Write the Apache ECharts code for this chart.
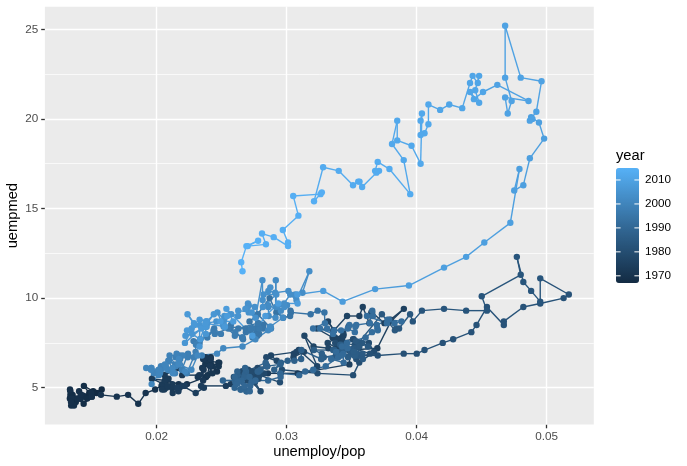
<!DOCTYPE html>
<html><head><meta charset="utf-8">
<script src="https://cdn.jsdelivr.net/npm/echarts@6/dist/echarts.min.js"></script>
<style>html,body{margin:0;padding:0;background:#fff}#c{width:687px;height:466px}</style>
</head><body><div id="c"></div>
<script>
// monthly series, starting July 1967
const firstYear = 1967, firstMonth = 7;
const unemployPop = [
0.01482,0.01481,0.01486,0.01577,0.01537,0.01511,
0.01440,0.01501,0.01438,0.01353,0.01368,0.01465,0.01436,0.01378,0.01336,0.01336,0.01347,0.01332,
0.01347,0.01333,0.01342,0.01364,0.01341,0.01391,0.01415,0.01408,0.01497,0.01500,0.01403,0.01416,
0.01571,0.01693,0.01780,0.01858,0.01915,0.01988,0.02037,0.02074,0.02169,0.02233,0.02380,0.02464,
0.02418,0.02375,0.02415,0.02399,0.02416,0.02391,0.02430,0.02475,0.02429,0.02384,0.02481,0.02477,
0.02410,0.02365,0.02416,0.02376,0.02357,0.02357,0.02350,0.02361,0.02316,0.02327,0.02196,0.02165,
0.02061,0.02120,0.02091,0.02120,0.02058,0.02073,0.02043,0.02042,0.02063,0.01963,0.02081,0.02123,
0.02176,0.02215,0.02167,0.02159,0.02199,0.02300,0.02363,0.02341,0.02532,0.02570,0.02856,0.03084,
0.03482,0.03488,0.03697,0.03801,0.03901,0.03799,0.03752,0.03657,0.03651,0.03636,0.03585,0.03559,
0.03464,0.03365,0.03318,0.03362,0.03232,0.03353,0.03426,0.03436,0.03371,0.03391,0.03475,0.03437,
0.03315,0.03386,0.03321,0.03206,0.03136,0.03234,0.03093,0.03133,0.03052,0.03055,0.03075,0.02879,
0.02923,0.02843,0.02849,0.02776,0.02750,0.02703,0.02827,0.02722,0.02739,0.02657,0.02713,0.02778,
0.02722,0.02748,0.02718,0.02697,0.02593,0.02644,0.02658,0.02799,0.02739,0.02783,0.02755,0.02791,
0.02948,0.02954,0.02963,0.03237,0.03511,0.03558,0.03671,0.03632,0.03515,0.03541,0.03510,0.03373,
0.03524,0.03513,0.03480,0.03427,0.03640,0.03535,0.03504,0.03466,0.03542,0.03700,0.03900,0.04000,
0.04060,0.04200,0.04280,0.04420,0.04460,0.04540,0.04670,0.04670,0.04820,0.04950,0.05130,0.05170,
0.04950,0.04950,0.04880,0.04820,0.04770,0.04800,0.04500,0.04540,0.04380,0.04210,0.04040,0.03970,
0.03949,0.03864,0.03842,0.03832,0.03732,0.03552,0.03581,0.03625,0.03533,0.03516,0.03524,0.03559,
0.03549,0.03500,0.03497,0.03542,0.03493,0.03586,0.03583,0.03434,0.03431,0.03429,0.03381,0.03378,
0.03285,0.03528,0.03525,0.03472,0.03519,0.03516,0.03418,0.03365,0.03412,0.03409,0.03357,0.03209,
0.03270,0.03267,0.03265,0.03113,0.03111,0.03059,0.03007,0.02956,0.02904,0.02951,0.02850,0.02799,
0.02843,0.02841,0.02838,0.02687,0.02784,0.02682,0.02680,0.02777,0.02676,0.02674,0.02622,0.02620,
0.02714,0.02612,0.02509,0.02608,0.02605,0.02653,0.02601,0.02599,0.02647,0.02645,0.02692,0.02690,
0.02729,0.02675,0.02622,0.02719,0.02716,0.02613,0.02760,0.02857,0.02953,0.02950,0.03096,0.03142,
0.03204,0.03300,0.03396,0.03342,0.03438,0.03434,0.03380,0.03426,0.03422,0.03467,0.03463,0.03607,
0.03656,0.03701,0.03697,0.03693,0.03788,0.03883,0.03829,0.03775,0.03771,0.03617,0.03663,0.03658,
0.03639,0.03535,0.03482,0.03528,0.03524,0.03470,0.03418,0.03365,0.03311,0.03357,0.03256,0.03203,
0.03294,0.03290,0.03238,0.03184,0.03032,0.03029,0.03026,0.02973,0.02920,0.02868,0.02766,0.02714,
0.02788,0.02686,0.02684,0.02879,0.02778,0.02775,0.02821,0.02819,0.02767,0.02715,0.02761,0.02758,
0.02789,0.02737,0.02735,0.02781,0.02779,0.02628,0.02724,0.02524,0.02570,0.02568,0.02664,0.02661,
0.02657,0.02604,0.02601,0.02549,0.02447,0.02494,0.02442,0.02389,0.02437,0.02335,0.02283,0.02330,
0.02302,0.02299,0.02347,0.02145,0.02193,0.02241,0.02239,0.02236,0.02284,0.02232,0.02180,0.02178,
0.02153,0.02201,0.02099,0.02147,0.02095,0.02143,0.02141,0.02089,0.02087,0.02035,0.02033,0.01982,
0.02025,0.02074,0.02021,0.01919,0.02018,0.02016,0.02015,0.02063,0.01961,0.01959,0.01958,0.01956,
0.02124,0.02122,0.02171,0.02219,0.02167,0.02267,0.02315,0.02464,0.02512,0.02660,0.02759,0.02857,
0.02877,0.02875,0.02872,0.02970,0.02918,0.02916,0.02914,0.02861,0.02859,0.02857,0.02955,0.03002,
0.02933,0.02982,0.02980,0.03027,0.03075,0.03174,0.03121,0.03069,0.03066,0.03013,0.02911,0.02859,
0.02874,0.02822,0.02920,0.02817,0.02815,0.02813,0.02760,0.02708,0.02707,0.02754,0.02702,0.02700,
0.02682,0.02731,0.02627,0.02626,0.02573,0.02521,0.02519,0.02467,0.02515,0.02513,0.02511,0.02459,
0.02390,0.02439,0.02386,0.02384,0.02331,0.02329,0.02378,0.02376,0.02273,0.02221,0.02269,0.02217,
0.02343,0.02291,0.02237,0.02287,0.02233,0.02334,0.02383,0.02330,0.02379,0.02376,0.02375,0.02525,
0.02542,0.02490,0.02589,0.02536,0.02736,0.02836,0.02935,0.03084,0.03082,0.03281,0.03430,0.03680,
0.03940,0.04210,0.04380,0.04520,0.04720,0.04790,0.04750,0.04820,0.04870,0.04980,0.04940,0.04880,
0.04890,0.04870,0.04920,0.04960,0.04800,0.04680,0.04680,0.04730,0.04700,0.04680,0.04860,0.04620,
0.04510,0.04440,0.04410,0.04480,0.04450,0.04480,0.04470,0.04430,0.04410,0.04350,0.04250,0.04180,
0.04090,0.04090,0.04060,0.04030,0.04030,0.04040,0.04030,0.03960,0.03850,0.03850,0.03810,0.03900,
0.03950,0.03790,0.03700,0.03680,0.03710,0.03690,0.03580,0.03560,0.03550,0.03510,0.03400,0.03280,
0.03210,0.03270,0.03260,0.03050,0.03090,0.02970,0.03010,0.03010,0.02900,0.02810,0.02840,0.02700,
0.02780,0.02690,0.02650,0.02660
];
const uempmed = [
4.5,4.7,4.6,4.9,4.7,4.8,
5.1,4.5,4.1,4.6,4.4,4.4,4.5,4.2,4.6,4.8,4.4,4.4,
4.4,4.9,4.0,4.0,4.2,4.4,4.4,4.4,4.7,4.5,4.8,4.6,
4.6,4.5,4.6,4.1,4.7,4.9,5.1,5.4,5.2,5.2,5.6,5.9,
6.2,6.3,6.4,6.5,6.7,5.7,6.2,6.4,5.8,6.5,6.4,6.2,
6.2,6.6,6.6,6.7,6.6,5.4,6.1,6.0,5.6,5.7,5.7,6.1,
5.7,5.2,5.5,5.0,4.9,5.0,5.2,4.9,5.4,5.5,5.1,4.7,
5.0,5.1,4.8,5.0,5.1,4.7,5.0,5.1,5.1,5.2,5.8,5.8,
6.3,7.1,7.2,8.7,9.4,8.8,8.6,9.2,9.2,8.6,9.5,9.0,
9.0,8.2,8.7,8.2,8.3,7.8,7.7,7.9,7.8,7.7,8.4,8.0,
7.5,7.2,7.2,7.3,7.9,6.2,7.1,7.0,6.7,6.9,7.0,6.8,
6.5,6.7,6.2,6.1,5.7,6.0,5.8,5.8,5.6,5.9,5.5,5.6,
5.9,5.9,5.9,5.4,5.6,5.6,5.9,4.8,5.5,5.5,5.3,5.7,
5.3,5.8,6.0,5.8,5.7,6.4,7.0,7.5,7.7,7.5,7.7,7.5,
7.4,7.1,7.1,7.4,6.9,6.6,7.1,7.2,6.8,6.8,6.9,6.9,
7.1,7.5,7.7,8.1,8.5,9.5,8.5,8.7,9.5,9.7,10.0,10.2,
11.1,9.8,10.4,10.9,12.3,11.3,10.1,9.3,9.3,9.4,9.3,8.7,
9.1,8.3,8.3,8.2,9.1,7.5,7.5,7.3,7.6,7.2,7.2,7.3,
6.8,7.1,7.1,6.9,6.9,6.6,6.9,7.1,6.9,7.1,7.0,6.8,
6.7,6.9,6.8,6.7,6.8,7.0,6.9,7.1,7.4,7.0,7.1,7.1,
6.9,6.6,6.6,7.1,6.6,6.5,6.5,6.4,6.0,6.3,6.2,6.0,
6.2,6.3,6.4,5.9,5.9,5.8,6.1,5.9,5.7,5.6,5.7,5.9,
5.6,5.4,5.4,5.4,5.3,5.4,5.6,5.0,4.9,4.9,4.8,4.8,
5.3,5.1,5.3,5.1,4.8,5.2,5.4,5.4,5.6,5.8,5.7,5.9,
6.0,6.2,6.7,6.6,6.4,6.9,7.0,7.3,6.8,7.2,7.5,7.8,
8.1,8.2,8.3,8.5,8.8,8.7,8.6,8.8,8.6,9.0,9.0,9.3,
8.6,8.5,8.5,8.4,8.1,8.3,8.2,8.2,8.3,8.0,8.3,8.3,
8.6,9.2,9.3,9.1,9.2,9.3,9.0,8.9,9.2,10.0,9.0,8.7,
8.0,8.1,8.3,8.3,9.1,7.9,8.5,8.3,7.9,8.2,8.0,8.3,
8.3,7.8,8.3,8.6,8.6,8.3,8.3,8.4,8.5,8.3,7.7,7.8,
7.8,8.1,7.9,8.3,8.0,8.0,8.3,7.8,8.2,7.7,7.6,7.5,
7.4,7.0,6.8,6.7,6.0,6.9,6.7,6.8,6.7,5.8,6.6,6.8,
6.9,6.8,6.8,6.2,6.5,6.3,5.8,6.5,6.0,6.1,6.2,5.8,
5.8,6.1,6.0,6.1,5.8,5.7,6.0,6.3,5.2,6.1,6.1,6.0,
5.8,6.1,6.6,5.9,6.3,6.0,6.8,6.9,7.2,7.3,7.7,8.2,
8.4,8.3,8.4,8.9,9.5,11.0,8.9,9.0,9.5,9.6,9.3,9.6,
9.6,9.5,9.7,10.2,9.9,11.5,10.3,10.1,10.2,10.4,10.3,10.4,
10.6,10.2,10.2,9.5,9.9,11.0,8.9,9.2,9.6,9.5,9.7,9.5,
9.4,9.2,9.3,9.0,9.1,9.0,8.8,9.2,8.4,8.6,8.5,8.7,
8.6,9.1,8.7,8.4,8.5,7.3,8.0,8.4,8.0,7.9,8.3,7.5,
8.3,8.5,9.1,8.6,8.2,7.7,8.7,8.8,8.7,8.4,8.6,8.4,
9.0,8.7,8.7,9.4,7.9,9.0,9.7,9.7,10.2,10.4,9.8,10.5,
10.7,11.7,12.3,13.1,14.2,17.2,16.0,16.3,17.8,18.9,19.8,20.1,
20.0,19.9,20.4,22.1,22.3,25.2,22.3,21.0,20.3,21.2,21.0,21.9,
21.5,21.1,21.5,20.9,21.6,22.4,22.0,22.4,22.0,20.6,20.8,20.5,
20.8,19.7,19.2,19.1,19.9,20.3,17.5,18.5,18.8,19.9,18.6,17.7,
15.8,17.2,17.6,17.1,17.1,17.0,16.2,16.5,16.5,16.3,17.1,17.3,
15.4,15.9,15.8,15.7,14.6,13.8,13.1,12.9,13.4,13.6,13.0,12.9,
13.2,12.9,12.0,11.5
];
const xTicks = [0.02, 0.03, 0.04, 0.05];
const xMinor = [0.015, 0.025, 0.035, 0.045];
const yTicks = [5, 10, 15, 20, 25];
const yMinor = [7.5, 12.5, 17.5, 22.5];
const legendYears = [1970, 1980, 1990, 2000, 2010];
const yearMin = 1967, yearMax = 2015;

const FONT = "'Liberation Sans', Arial, Helvetica, sans-serif";
const n = uempmed.length;
function yearOf(i) { return firstYear + Math.floor((firstMonth - 1 + i) / 12); }
const points = [], segments = [];
for (let i = 0; i < n; i++) {
  points.push([unemployPop[i], uempmed[i], yearOf(i)]);
  if (i < n - 1) segments.push([unemployPop[i], uempmed[i], yearOf(i), unemployPop[i + 1], uempmed[i + 1]]);
}

// legend layout
const barLeft = 616, barTop = 168, barW = 23, barH = 115;
const graphics = [{
  type: 'text', left: barLeft, top: 148, z: 100,
  style: { text: 'year', fontSize: 14.7, fontFamily: FONT, fill: '#000' }
}];
legendYears.forEach(function (yr) {
  const y = barTop + (yearMax - yr) / (yearMax - yearMin) * barH;
  graphics.push({ type: 'text', x: 645, y: y, z: 100,
    style: { text: String(yr), fontSize: 11.7, fontFamily: FONT, fill: '#000', verticalAlign: 'middle' } });
  graphics.push({ type: 'line', z: 100, shape: { x1: barLeft, y1: y, x2: barLeft + 4.6, y2: y },
    style: { stroke: '#fff', lineWidth: 1 } });
  graphics.push({ type: 'line', z: 100, shape: { x1: barLeft + barW - 4.6, y1: y, x2: barLeft + barW, y2: y },
    style: { stroke: '#fff', lineWidth: 1 } });
});

const tickStyle = { show: true, length: 3.7, lineStyle: { color: '#333333', width: 1.3 } };
const chart = echarts.init(document.getElementById('c'), null, { renderer: 'canvas' });
chart.setOption({
  animation: false,
  backgroundColor: '#ffffff',
  grid: { left: 44.9, right: 93.2, top: 6.7, bottom: 41.4, show: true, backgroundColor: '#EBEBEB', borderWidth: 0,
          containLabel: false, outerBoundsMode: 'none', z: 0 },
  xAxis: {
    type: 'value', min: 0.0114, max: 0.05362,
    name: 'unemploy/pop', nameLocation: 'middle', nameGap: 20, nameMoveOverlap: false,
    nameTextStyle: { fontSize: 14.7, color: '#000', fontFamily: FONT },
    axisLine: { show: false },
    axisTick: Object.assign({ customValues: xTicks }, tickStyle),
    axisLabel: { customValues: xTicks, margin: 6.6, fontSize: 11.7, color: '#4D4D4D', fontFamily: FONT },
    splitLine: { show: false }
  },
  yAxis: {
    type: 'value', min: 2.94, max: 26.26,
    name: 'uempmed', nameLocation: 'middle', nameGap: 24, nameRotate: 90, nameMoveOverlap: false,
    nameTextStyle: { fontSize: 14.7, color: '#000', fontFamily: FONT },
    axisLine: { show: false },
    axisTick: Object.assign({ customValues: yTicks }, tickStyle),
    axisLabel: { customValues: yTicks, margin: 6.6, fontSize: 11.7, color: '#4D4D4D', fontFamily: FONT },
    splitLine: { show: false }
  },
  visualMap: {
    type: 'continuous', min: yearMin, max: yearMax, dimension: 2, seriesIndex: [2, 3],
    inRange: { color: ['#132B43', '#336A98', '#56B1F7'] },
    left: barLeft, top: barTop, itemWidth: barW, itemHeight: barH,
    calculable: false, hoverLink: false, padding: 0, text: null, showLabel: false
  },
  graphic: graphics,
  series: [
    { type: 'line', data: [], z: 1, silent: true,
      markLine: { z: 1, silent: true, symbol: ['none', 'none'], label: { show: false }, animation: false,
        lineStyle: { color: '#ffffff', width: 0.7, type: 'solid' },
        data: xMinor.map(v => ({ xAxis: v })).concat(yMinor.map(v => ({ yAxis: v }))) } },
    { type: 'line', data: [], z: 1, silent: true,
      markLine: { z: 1, silent: true, symbol: ['none', 'none'], label: { show: false }, animation: false,
        lineStyle: { color: '#ffffff', width: 1.4, type: 'solid' },
        data: xTicks.map(v => ({ xAxis: v })).concat(yTicks.map(v => ({ yAxis: v }))) } },
    { type: 'custom', coordinateSystem: 'cartesian2d', z: 2, silent: true,
      dimensions: ['x', 'y', 'year', 'x2', 'y2'], encode: { x: 0, y: 1 },
      data: segments,
      renderItem: function (params, api) {
        const p1 = api.coord([api.value(0), api.value(1)]);
        const p2 = api.coord([api.value(3), api.value(4)]);
        return { type: 'line', shape: { x1: p1[0], y1: p1[1], x2: p2[0], y2: p2[1] },
          style: { stroke: api.visual('color'), lineWidth: 1.4 } };
      } },
    { type: 'scatter', z: 3, silent: true, symbol: 'circle', symbolSize: 6.4,
      dimensions: ['x', 'y', 'year'], encode: { x: 0, y: 1 },
      data: points, itemStyle: { opacity: 1 } }
  ]
});
</script>
</body></html>
